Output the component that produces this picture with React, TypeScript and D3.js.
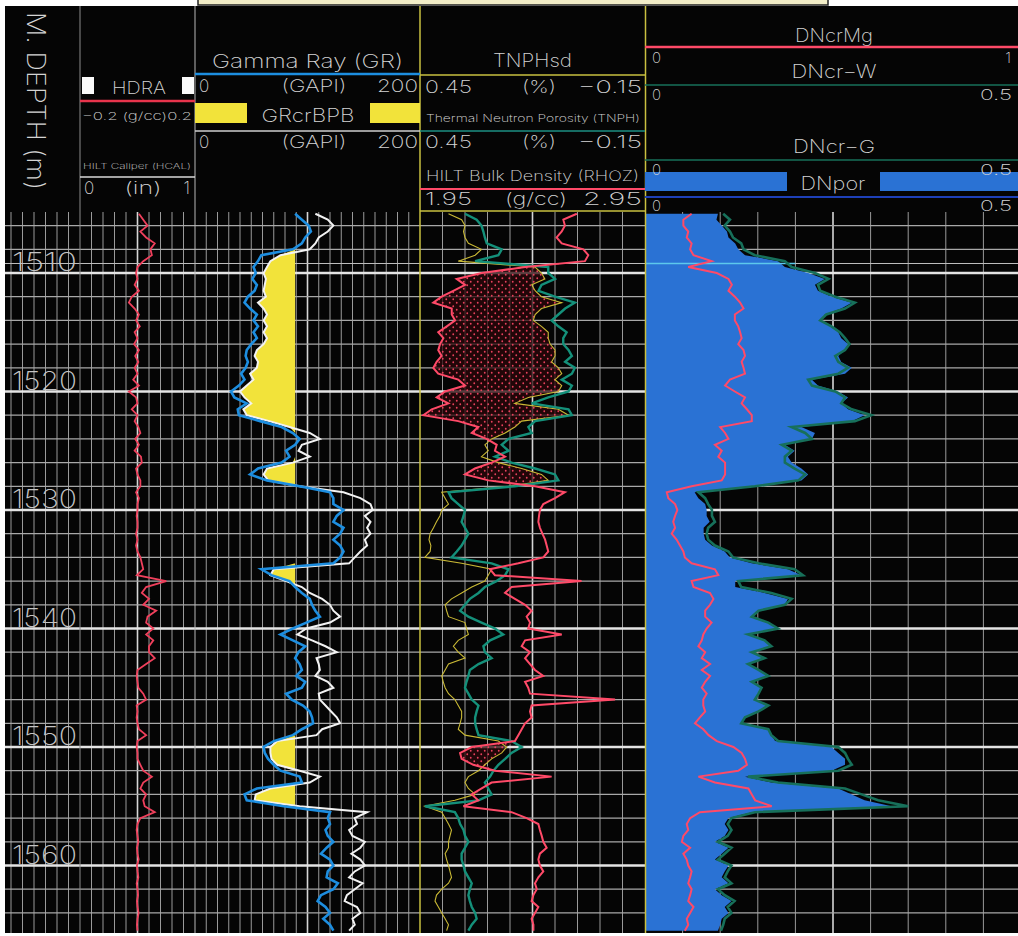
import React from 'react';
import * as d3 from 'd3';

// Log samples: top depth and sampling step (m); each curve array holds one value per step.
const TOP_DEPTH = 1505;
const DEPTH_STEP = 0.5;

// HILT density correction HDRA (g/cc)
const HDRA = [
  0.005, 0.02, 0.035, 0.01, 0.03, 0.06, 0.045, 0.05, 0.02, 0.0,
  -0.005, 0.0, -0.01, 0.005, -0.02, -0.03, -0.01, 0.005, -0.005, 0.008,
  -0.01, 0.0, -0.012, 0.005, -0.008, 0.003, -0.01, 0.0, -0.015, 0.005,
  -0.03, -0.005, 0.0, -0.02, 0.0, -0.01, 0.003, 0.01, -0.008, 0.005,
  -0.01, 0.012, 0.015, -0.005, 0.0, 0.01, 0.01, -0.005, 0.005, 0.0,
  0.0, -0.003, 0.0, 0.0, -0.005, 0.0, -0.005, 0.0, 0.01, 0.015,
  0.02, -0.002, 0.1, 0.03, 0.015, 0.04, 0.02, 0.065, 0.035, 0.03,
  0.055, 0.03, 0.055, 0.04, 0.04, 0.06, 0.03, 0.0, -0.003, 0.0,
  0.003, 0.02, 0.03, -0.003, 0.0, -0.003, 0.0, 0.005, 0.03, 0.0,
  -0.003, 0.0, 0.0, 0.01, 0.02, 0.05, 0.02, 0.01, 0.03, 0.02,
  0.025, 0.06, 0.01, 0.0, -0.003, 0.0, 0.003, -0.002, 0.0, 0.004,
  -0.002, 0.0, 0.003, -0.003, 0.0, 0.002, -0.002, 0.0, 0.004, 0.0,
  -0.002, 0.0,
];

// Gamma Ray GR (GAPI)
const GR = [
  89, 95, 101, 103, 98, 95, 87, 59, 56, 52,
  54, 51, 55, 53, 47, 44, 49, 55, 52, 56,
  52, 55, 50, 46, 45, 47, 45, 41, 44, 39,
  32, 35, 46, 38, 39, 58, 77, 87, 93, 89,
  81, 84, 77, 56, 49, 64, 93, 120, 123, 123,
  132, 126, 123, 132, 129, 123, 129, 132, 129, 123,
  59, 68, 84, 89, 95, 102, 104, 107, 111, 99,
  87, 76, 87, 98, 92, 89, 93, 95, 90, 98,
  95, 81, 86, 96, 102, 104, 105, 95, 87, 70,
  61, 62, 65, 70, 76, 93, 95, 55, 44, 46,
  79, 120, 118, 120, 116, 118, 123, 117, 112, 120,
  123, 118, 117, 127, 123, 112, 109, 116, 120, 114,
  120, 123,
];

// Borehole-corrected gamma ray GRcrBPB (GAPI)
const GRCR_BPB = [
  107, 118, 123, 118, 110, 107, 102, 76, 67, 64,
  61, 63, 62, 61, 63, 56, 61, 64, 61, 64,
  61, 64, 61, 55, 53, 56, 55, 49, 52, 46,
  40, 44, 50, 43, 46, 66, 84, 102, 111, 95,
  92, 102, 87, 64, 61, 65, 93, 132, 147, 156,
  158, 151, 156, 153, 156, 151, 153, 147, 142, 137,
  70, 67, 81, 95, 102, 113, 120, 123, 129, 120,
  99, 91, 104, 116, 126, 108, 110, 111, 107, 118,
  123, 110, 111, 116, 121, 126, 129, 113, 108, 73,
  67, 67, 68, 73, 93, 111, 102, 67, 54, 53,
  93, 153, 142, 144, 137, 140, 151, 147, 139, 147,
  151, 142, 137, 149, 142, 135, 133, 144, 147, 140,
  142, 137,
];

// Sandstone-matrix neutron porosity TNPHsd (v/v)
const TNPHSD = [
  0.374, 0.339, 0.33, 0.334, 0.33, 0.321, 0.286, 0.303, 0.348, 0.143,
  0.126, 0.117, 0.152, 0.143, 0.126, 0.072, 0.126, 0.143, 0.148, 0.126,
  0.108, 0.108, 0.103, 0.09, 0.09, 0.099, 0.081, 0.072, 0.09, 0.072,
  0.081, 0.161, 0.197, 0.081, 0.054, 0.179, 0.197, 0.223, 0.259, 0.277,
  0.268, 0.286, 0.241, 0.179, 0.126, 0.108, 0.214, 0.392, 0.383, 0.374,
  0.392, 0.397, 0.406, 0.414, 0.423, 0.426, 0.421, 0.423, 0.437, 0.339,
  0.259, 0.268, 0.277, 0.312, 0.339, 0.366, 0.383, 0.379, 0.374, 0.33,
  0.326, 0.321, 0.348, 0.361, 0.348, 0.33, 0.374, 0.383, 0.392, 0.388,
  0.383, 0.374, 0.357, 0.348, 0.339, 0.339, 0.343, 0.348, 0.33, 0.241,
  0.219, 0.232, 0.259, 0.277, 0.294, 0.321, 0.33, 0.321, 0.303, 0.357,
  0.437, 0.392, 0.383, 0.374, 0.366, 0.37, 0.374, 0.374, 0.383, 0.379,
  0.374, 0.37, 0.366, 0.374, 0.392, 0.406, 0.41, 0.401, 0.392, 0.383,
  0.374, 0.379,
];

// Thermal neutron porosity TNPH (v/v)
const TNPH = [
  0.33, 0.299, 0.286, 0.281, 0.277, 0.272, 0.232, 0.241, 0.303, 0.108,
  0.108, 0.09, 0.126, 0.134, 0.09, 0.037, 0.063, 0.081, 0.099, 0.081,
  0.059, 0.068, 0.068, 0.054, 0.045, 0.063, 0.037, 0.045, 0.072, 0.045,
  0.054, 0.108, 0.152, 0.054, 0.045, 0.143, 0.161, 0.152, 0.214, 0.232,
  0.214, 0.25, 0.206, 0.143, 0.09, 0.081, 0.197, 0.374, 0.366, 0.348,
  0.33, 0.334, 0.339, 0.33, 0.321, 0.33, 0.339, 0.352, 0.366, 0.259,
  0.214, 0.223, 0.246, 0.277, 0.294, 0.317, 0.33, 0.343, 0.321, 0.286,
  0.25, 0.228, 0.263, 0.281, 0.277, 0.259, 0.294, 0.317, 0.321, 0.326,
  0.33, 0.321, 0.312, 0.294, 0.299, 0.303, 0.303, 0.299, 0.294, 0.206,
  0.179, 0.206, 0.223, 0.241, 0.254, 0.263, 0.277, 0.268, 0.259, 0.294,
  0.437, 0.357, 0.348, 0.343, 0.334, 0.33, 0.321, 0.33, 0.339, 0.339,
  0.334, 0.33, 0.321, 0.312, 0.317, 0.321, 0.317, 0.312, 0.303, 0.299,
  0.312, 0.321,
];

// HILT bulk density RHOZ (g/cc)
const RHOZ = [
  2.647, 2.587, 2.594, 2.58, 2.557, 2.58, 2.676, 2.698, 2.683, 2.417,
  2.224, 2.113, 2.15, 2.098, 2.046, 2.009, 2.091, 2.091, 2.106, 2.069,
  2.031, 2.054, 2.039, 2.031, 2.046, 2.024, 2.009, 2.031, 2.12, 2.15,
  2.061, 2.024, 2.076, 2.002, 1.965, 2.12, 2.209, 2.18, 2.246, 2.291,
  2.283, 2.328, 2.268, 2.194, 2.15, 2.254, 2.461, 2.594, 2.55, 2.498,
  2.483, 2.479, 2.476, 2.483, 2.494, 2.506, 2.513, 2.52, 2.498, 2.387,
  2.261, 2.283, 2.668, 2.357, 2.328, 2.372, 2.417, 2.446, 2.424, 2.439,
  2.431, 2.58, 2.417, 2.402, 2.439, 2.417, 2.439, 2.461, 2.498, 2.417,
  2.431, 2.439, 2.817, 2.446, 2.439, 2.446, 2.417, 2.402, 2.387, 2.372,
  2.18, 2.128, 2.135, 2.187, 2.283, 2.535, 2.268, 2.224, 2.18, 2.209,
  2.143, 2.357, 2.424, 2.476, 2.483, 2.491, 2.498, 2.513, 2.483, 2.476,
  2.483, 2.498, 2.476, 2.461, 2.469, 2.454, 2.446, 2.476, 2.461, 2.446,
  2.454, 2.454,
];

// Density-neutron porosity DNpor (v/v)
const DNPOR = [
  0.097, 0.095, 0.102, 0.109, 0.111, 0.12, 0.124, 0.133, 0.177, 0.186,
  0.217, 0.239, 0.226, 0.23, 0.248, 0.275, 0.261, 0.239, 0.235, 0.248,
  0.257, 0.261, 0.27, 0.266, 0.257, 0.261, 0.275, 0.266, 0.222, 0.23,
  0.257, 0.27, 0.261, 0.27, 0.292, 0.275, 0.208, 0.226, 0.222, 0.186,
  0.199, 0.19, 0.195, 0.208, 0.217, 0.208, 0.151, 0.066, 0.071, 0.08,
  0.082, 0.082, 0.086, 0.078, 0.078, 0.08, 0.089, 0.106, 0.113, 0.142,
  0.19, 0.208, 0.12, 0.12, 0.159, 0.19, 0.186, 0.151, 0.142, 0.164,
  0.177, 0.137, 0.159, 0.168, 0.142, 0.159, 0.137, 0.151, 0.164, 0.142,
  0.155, 0.151, 0.146, 0.164, 0.151, 0.133, 0.128, 0.164, 0.168, 0.173,
  0.248, 0.257, 0.266, 0.266, 0.248, 0.133, 0.168, 0.257, 0.275, 0.292,
  0.328, 0.142, 0.111, 0.106, 0.111, 0.106, 0.093, 0.111, 0.102, 0.093,
  0.111, 0.106, 0.102, 0.111, 0.093, 0.102, 0.115, 0.106, 0.111, 0.102,
  0.1, 0.097,
];

// Water-corrected density-neutron porosity DNcr-W (v/v)
const DNCR_W = [
  0.104, 0.113, 0.106, 0.113, 0.117, 0.128, 0.131, 0.146, 0.186, 0.195,
  0.226, 0.244, 0.23, 0.233, 0.253, 0.279, 0.266, 0.241, 0.233, 0.248,
  0.259, 0.266, 0.272, 0.266, 0.253, 0.257, 0.27, 0.257, 0.217, 0.222,
  0.253, 0.266, 0.261, 0.275, 0.301, 0.279, 0.195, 0.213, 0.222, 0.182,
  0.195, 0.186, 0.186, 0.199, 0.213, 0.204, 0.146, 0.071, 0.08, 0.084,
  0.089, 0.089, 0.093, 0.084, 0.082, 0.084, 0.093, 0.111, 0.117, 0.151,
  0.199, 0.21, 0.124, 0.128, 0.168, 0.195, 0.186, 0.151, 0.142, 0.164,
  0.177, 0.137, 0.159, 0.168, 0.142, 0.159, 0.137, 0.151, 0.164, 0.142,
  0.155, 0.151, 0.146, 0.164, 0.151, 0.133, 0.128, 0.164, 0.168, 0.177,
  0.257, 0.266, 0.27, 0.275, 0.257, 0.137, 0.177, 0.266, 0.288, 0.31,
  0.35, 0.146, 0.115, 0.11, 0.115, 0.11, 0.097, 0.115, 0.106, 0.097,
  0.115, 0.11, 0.106, 0.115, 0.097, 0.106, 0.119, 0.11, 0.115, 0.106,
  0.104, 0.101,
];

// Magnesium-corrected density-neutron porosity DNcrMg (v/v)
const DNCR_MG = [
  0.124, 0.102, 0.102, 0.115, 0.111, 0.124, 0.12, 0.129, 0.177, 0.115,
  0.191, 0.222, 0.231, 0.222, 0.239, 0.253, 0.262, 0.239, 0.239, 0.248,
  0.253, 0.257, 0.248, 0.262, 0.266, 0.257, 0.262, 0.266, 0.226, 0.213,
  0.239, 0.266, 0.257, 0.271, 0.284, 0.284, 0.2, 0.213, 0.222, 0.186,
  0.204, 0.195, 0.213, 0.213, 0.213, 0.204, 0.124, 0.058, 0.062, 0.08,
  0.086, 0.08, 0.075, 0.08, 0.071, 0.084, 0.093, 0.102, 0.106, 0.124,
  0.186, 0.195, 0.124, 0.129, 0.173, 0.182, 0.173, 0.16, 0.16, 0.177,
  0.164, 0.155, 0.151, 0.142, 0.16, 0.151, 0.173, 0.151, 0.173, 0.16,
  0.151, 0.164, 0.155, 0.155, 0.16, 0.146, 0.133, 0.155, 0.169, 0.191,
  0.235, 0.257, 0.266, 0.271, 0.248, 0.142, 0.186, 0.275, 0.284, 0.293,
  0.337, 0.146, 0.12, 0.111, 0.115, 0.102, 0.098, 0.12, 0.102, 0.111,
  0.115, 0.124, 0.12, 0.115, 0.124, 0.12, 0.115, 0.129, 0.12, 0.111,
  0.115, 0.106,
];

const DEPTH_LABELS = [1510, 1520, 1530, 1540, 1550, 1560];
const GR_SAND_CUTOFF = 89; // GAPI
const MARKER_DEPTH = 1509.2;

const FONT = "Inter, 'DejaVu Sans', sans-serif";
const TXT = '#d4d4d4';

const depthOf = (i: number) => TOP_DEPTH + i * DEPTH_STEP;

type Scale = d3.ScaleLinear<number, number>;

export default function App() {
  const W = 1018;
  const H = 936;
  const dataTop = 212;
  const dataBottom = 933;

  const y = d3.scaleLinear().domain([1510, 1560]).range([273, 865.5]);
  const xHdra = d3.scaleLinear().domain([-0.2, 0.2]).range([80, 195]);
  const xGr = d3.scaleLinear().domain([0, 200]).range([195, 420]);
  const xNeu = d3.scaleLinear().domain([0.45, -0.15]).range([420, 645]);
  const xDen = d3.scaleLinear().domain([1.95, 2.95]).range([420, 645]);
  const xPor = d3.scaleLinear().domain([0, 0.5]).range([645, 1021]);
  const xMg = d3.scaleLinear().domain([0, 1]).range([645, 1021]);

  const linePath = (vals: number[], x: Scale) =>
    d3
      .line<number>()
      .x((v) => x(v))
      .y((_, i) => y(depthOf(i)))(vals) || '';

  const idx = d3.range(GR.length);

  const sandFill =
    d3
      .area<number>()
      .y((i) => y(depthOf(i)))
      .x0((i) => xGr(Math.min(GRCR_BPB[i], GR_SAND_CUTOFF)))
      .x1(() => xGr(GR_SAND_CUTOFF))(idx) || '';

  const crossFill =
    d3
      .area<number>()
      .y((i) => y(depthOf(i)))
      .x0((i) => xDen(RHOZ[i]))
      .x1((i) => Math.max(xDen(RHOZ[i]), xNeu(TNPHSD[i])))(d3.range(RHOZ.length)) || '';

  const porFill =
    d3
      .area<number>()
      .y((i) => y(depthOf(i)))
      .x0(() => xPor(0))
      .x1((i) => xPor(DNPOR[i]))(d3.range(DNPOR.length)) || '';

  // grid
  const minorDepths = d3.range(1506, 1566, 2).filter((d) => d % 10 !== 0);
  const majorDepths = d3.range(1510, 1570, 10);
  const depthTrackV = d3.range(1, 7).map((k) => 80 - k * 11.5);
  const t1V = d3.range(1, 10).map((k) => xHdra(-0.2 + k * 0.04));
  const t2V = d3.range(1, 20).map((k) => xGr(k * 10));
  const t3V = d3.range(1, 10).map((k) => xNeu(0.45 - k * 0.06));
  const t4V = d3.range(1, 10).map((k) => xPor(k * 0.05));
  const centers = [xHdra(0), xGr(100), xNeu(0.15), xPor(0.25)];
  const minorV = [...depthTrackV, ...t1V, ...t2V, ...t3V, ...t4V].filter(
    (x) => !centers.some((c) => Math.abs(c - x) < 0.5)
  );

  const T = (props: any) => (
    <text
      fontFamily={FONT}
      fontWeight={200}
      fill={TXT}
      lengthAdjust="spacingAndGlyphs"
      {...props}
    />
  );

  return (
    <svg
      width={W}
      height={H}
      viewBox={`0 0 ${W} ${H}`}
      style={{ position: 'absolute', left: 0, top: 0, background: '#fff' }}
    >
      <defs>
        <clipPath id="dataClip">
          <rect x={5} y={dataTop} width={W - 5} height={dataBottom - dataTop} />
        </clipPath>
        <pattern id="gasDots" width={7} height={7} patternUnits="userSpaceOnUse">
          <rect width={7} height={7} fill="#2a0609" fillOpacity={0.75} />
          <circle cx={1.75} cy={1.75} r={0.9} fill="#e8405c" />
          <circle cx={5.25} cy={5.25} r={0.9} fill="#e8405c" />
        </pattern>
      </defs>

      {/* page frame */}
      <rect x={0} y={0} width={W} height={H} fill="#fff" />
      <rect x={5} y={6} width={W - 5} height={dataBottom - 6} fill="#050505" />
      <rect x={198} y={-2} width={630} height={7} fill="#f3eec8" stroke="#222" strokeWidth={1.5} />

      {/* data area */}
      <g clipPath="url(#dataClip)">
        {minorV.map((x, i) => (
          <line key={`v${i}`} x1={x} x2={x} y1={dataTop} y2={dataBottom} stroke="#9a9a9a" strokeWidth={1} />
        ))}
        {centers.map((x, i) => (
          <line key={`c${i}`} x1={x} x2={x} y1={dataTop} y2={dataBottom} stroke="#d6d6d6" strokeWidth={1.6} />
        ))}
        {minorDepths.map((d) => (
          <line key={`h${d}`} x1={5} x2={W} y1={y(d)} y2={y(d)} stroke="#a8a8a8" strokeWidth={1.2} />
        ))}
        {majorDepths.map((d) => (
          <line key={`m${d}`} x1={5} x2={W} y1={y(d)} y2={y(d)} stroke="#e4e4e4" strokeWidth={2.6} />
        ))}
        <line x1={5} x2={W} y1={y(MARKER_DEPTH)} y2={y(MARKER_DEPTH)} stroke="#bdbdbd" strokeWidth={1.2} />

        {/* fills */}
        <path d={sandFill} fill="#f2e33a" />
        <path d={crossFill} fill="url(#gasDots)" />
        <path d={porFill} fill="#2a72d4" />
        <line
          x1={645}
          x2={xPor(0.2)}
          y1={y(MARKER_DEPTH)}
          y2={y(MARKER_DEPTH)}
          stroke="#5cc8ec"
          strokeWidth={1.6}
        />

        {/* curves */}
        <path d={linePath(HDRA, xHdra)} fill="none" stroke="#f0405c" strokeWidth={1.8} />
        <path d={linePath(GRCR_BPB, xGr)} fill="none" stroke="#f2f2f2" strokeWidth={2} />
        <path d={linePath(GR, xGr)} fill="none" stroke="#1d8ee0" strokeWidth={2.6} />
        <path d={linePath(TNPHSD, xNeu)} fill="none" stroke="#c9b935" strokeWidth={1.1} />
        <path d={linePath(TNPH, xNeu)} fill="none" stroke="#14907a" strokeWidth={2.4} />
        <path d={linePath(RHOZ, xDen)} fill="none" stroke="#ff4a68" strokeWidth={2} />
        <path d={linePath(DNCR_W, xPor)} fill="none" stroke="#17705a" strokeWidth={2.6} />
        <path d={linePath(DNCR_MG, xMg)} fill="none" stroke="#ff4a68" strokeWidth={2} />

        {/* depth labels */}
        {DEPTH_LABELS.map((d) => (
          <T key={`l${d}`} x={12} y={y(d) - 2} fontSize={26} textLength={65} fill="#c4c4c4">
            {d}
          </T>
        ))}
      </g>

      {/* track borders */}
      <line x1={80} x2={80} y1={6} y2={dataBottom} stroke="#8c8c8c" strokeWidth={1} />
      <line x1={195} x2={195} y1={6} y2={dataBottom} stroke="#b8b8b8" strokeWidth={1} />
      <line x1={420} x2={420} y1={6} y2={dataBottom} stroke="#c9c040" strokeWidth={1.5} />
      <line x1={645.5} x2={645.5} y1={6} y2={dataBottom} stroke="#c9c040" strokeWidth={1.5} />

      {/* depth track header */}
      <T transform="translate(27,12) rotate(90)" fontSize={25} textLength={178}>
        M. DEPTH (m)
      </T>

      {/* track 1 header */}
      <rect x={82} y={77} width={12} height={17} fill="#fafafa" />
      <T x={112} y={94} fontSize={17} textLength={54}>HDRA</T>
      <rect x={182} y={77} width={12} height={17} fill="#fafafa" />
      <line x1={80} x2={195} y1={101} y2={101} stroke="#e8344c" strokeWidth={2.5} />
      <T x={82} y={120} fontSize={11} textLength={110}>−0.2 (g/cc)0.2</T>
      <T x={83} y={169} fontSize={8} textLength={108}>HILT Caliper (HCAL)</T>
      <line x1={80} x2={195} y1={177} y2={177} stroke="#d8d8d8" strokeWidth={1.5} />
      <T x={84} y={194} fontSize={17}>0</T>
      <T x={143} y={194} fontSize={17} textAnchor="middle" textLength={37}>(in)</T>
      <T x={190} y={194} fontSize={17} textAnchor="end">1</T>

      {/* track 2 header */}
      <T x={307.5} y={68} fontSize={19} textAnchor="middle" textLength={191}>Gamma Ray (GR)</T>
      <line x1={195} x2={420} y1={74} y2={74} stroke="#1d8ee0" strokeWidth={2.5} />
      <T x={199} y={92} fontSize={17}>0</T>
      <T x={314} y={92} fontSize={17} textAnchor="middle" textLength={65}>(GAPI)</T>
      <T x={418} y={92} fontSize={17} textAnchor="end" textLength={41}>200</T>
      <rect x={195} y={103} width={52} height={20} fill="#f2e33a" />
      <rect x={370} y={103} width={50} height={20} fill="#f2e33a" />
      <T x={308} y={122} fontSize={18} textAnchor="middle" textLength={93}>GRcrBPB</T>
      <line x1={195} x2={420} y1={131} y2={131} stroke="#cfcfcf" strokeWidth={1.5} />
      <T x={199} y={148} fontSize={17}>0</T>
      <T x={314} y={148} fontSize={17} textAnchor="middle" textLength={65}>(GAPI)</T>
      <T x={418} y={148} fontSize={17} textAnchor="end" textLength={41}>200</T>

      {/* track 3 header */}
      <T x={532.5} y={67} fontSize={18} textAnchor="middle" textLength={79}>TNPHsd</T>
      <line x1={420} x2={645} y1={75} y2={75} stroke="#c9c040" strokeWidth={1.5} />
      <T x={425} y={93} fontSize={17} textLength={47}>0.45</T>
      <T x={539} y={93} fontSize={17} textAnchor="middle" textLength={34}>(%)</T>
      <T x={642} y={93} fontSize={17} textAnchor="end" textLength={64}>−0.15</T>
      <T x={426} y={122} fontSize={10} textLength={214}>Thermal Neutron Porosity (TNPH)</T>
      <line x1={420} x2={645} y1={131} y2={131} stroke="#1d8f83" strokeWidth={1.5} />
      <T x={425} y={148} fontSize={17} textLength={47}>0.45</T>
      <T x={539} y={148} fontSize={17} textAnchor="middle" textLength={34}>(%)</T>
      <T x={642} y={148} fontSize={17} textAnchor="end" textLength={64}>−0.15</T>
      <T x={426} y={181} fontSize={14} textLength={213}>HILT Bulk Density (RHOZ)</T>
      <line x1={420} x2={645} y1={189} y2={189} stroke="#ff4a68" strokeWidth={2} />
      <T x={425} y={205} fontSize={17} textLength={47}>1.95</T>
      <T x={536} y={205} fontSize={17} textAnchor="middle" textLength={62}>(g/cc)</T>
      <T x={642} y={205} fontSize={17} textAnchor="end" textLength={59}>2.95</T>
      <line x1={420} x2={645} y1={211} y2={211} stroke="#c9c040" strokeWidth={1.5} />

      {/* track 4 header */}
      <T x={834} y={42} fontSize={18} textAnchor="middle" textLength={78}>DNcrMg</T>
      <line x1={645} x2={W} y1={47} y2={47} stroke="#ff4a68" strokeWidth={2.5} />
      <T x={652} y={63} fontSize={15}>0</T>
      <T x={1011} y={63} fontSize={15} textAnchor="end">1</T>
      <T x={834} y={78} fontSize={18} textAnchor="middle" textLength={85}>DNcr−W</T>
      <line x1={645} x2={W} y1={85} y2={85} stroke="#17705a" strokeWidth={1.6} />
      <T x={652} y={100} fontSize={15}>0</T>
      <T x={1012} y={100} fontSize={15} textAnchor="end" textLength={32}>0.5</T>
      <T x={834} y={153} fontSize={18} textAnchor="middle" textLength={82}>DNcr−G</T>
      <line x1={645} x2={W} y1={160} y2={160} stroke="#17705a" strokeWidth={1.6} />
      <rect x={645} y={172} width={142} height={19} fill="#2a72d4" />
      <rect x={880} y={172} width={138} height={19} fill="#2a72d4" />
      <T x={652} y={175} fontSize={15}>0</T>
      <T x={1012} y={175} fontSize={15} textAnchor="end" textLength={32}>0.5</T>
      <T x={833} y={190} fontSize={18} textAnchor="middle" textLength={65}>DNpor</T>
      <line x1={645} x2={W} y1={197} y2={197} stroke="#1e40b8" strokeWidth={2} />
      <T x={652} y={211} fontSize={15}>0</T>
      <T x={1012} y={211} fontSize={15} textAnchor="end" textLength={32}>0.5</T>
    </svg>
  );
}
